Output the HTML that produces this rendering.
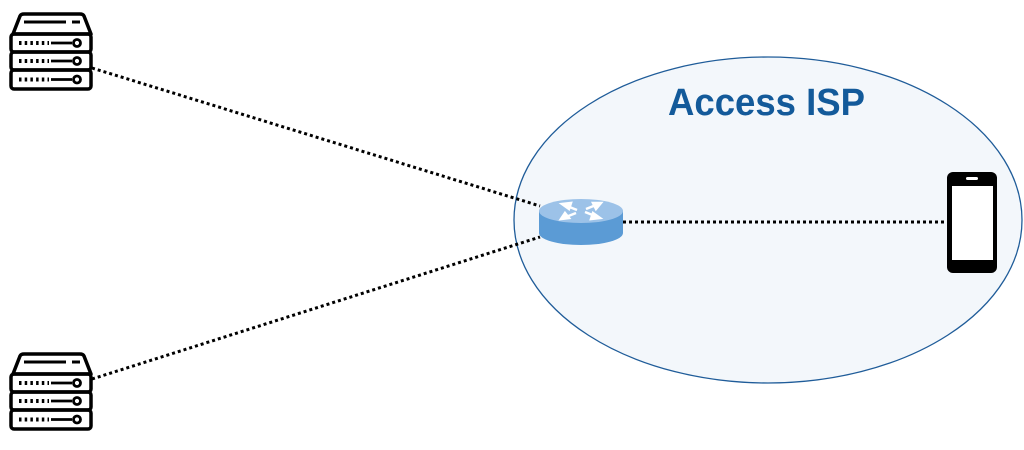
<!DOCTYPE html>
<html><head><style>html,body{margin:0;padding:0;background:#fff;}</style></head>
<body>
<svg width="1024" height="445" viewBox="0 0 1024 445" xmlns="http://www.w3.org/2000/svg">
<defs>
<g id="srv" fill="none" stroke="#000" stroke-width="3.5" stroke-linejoin="round">
  <path d="M13,34 L20,16 Q21,14 24,14 L80,14 Q83,14 84,16 L91,34 Z"/>
  <line x1="24" y1="22" x2="66" y2="22" stroke-width="3"/>
  <line x1="72" y1="22" x2="80" y2="22" stroke-width="3"/>
  <rect x="11" y="34" width="80" height="18" rx="3"/>
  <rect x="11" y="52" width="80" height="18" rx="3"/>
  <rect x="11" y="70" width="80" height="19" rx="3"/>
  <g stroke-width="4" stroke-dasharray="2.5,3.2">
    <line x1="19" y1="43" x2="49" y2="43"/>
    <line x1="19" y1="61" x2="49" y2="61"/>
    <line x1="19" y1="79.5" x2="49" y2="79.5"/>
  </g>
  <g stroke-width="2.8">
    <line x1="51" y1="43" x2="72" y2="43"/>
    <line x1="51" y1="61" x2="72" y2="61"/>
    <line x1="51" y1="79.5" x2="72" y2="79.5"/>
    <circle cx="77" cy="43" r="3.5"/><circle cx="77" cy="61" r="3.5"/><circle cx="77" cy="79.5" r="3.5"/>
  </g>
</g>
</defs>
<ellipse cx="768" cy="220" rx="254" ry="163" fill="#f3f7fb" stroke="#1f5c99" stroke-width="1.3"/>
<text x="668" y="115" font-family="Liberation Sans, sans-serif" font-weight="bold" font-size="38" fill="#135a9a" textLength="197" lengthAdjust="spacingAndGlyphs">Access ISP</text>
<g stroke="#000" stroke-width="3" stroke-dasharray="3,3" fill="none">
  <line x1="92" y1="68" x2="540" y2="206"/>
  <line x1="92" y1="379" x2="540" y2="237"/>
  <line x1="623" y1="222" x2="948" y2="222"/>
</g>
<use href="#srv"/>
<use href="#srv" y="340"/>
<path d="M539,211 L539,233 A42,12 0 0 0 623,233 L623,211 Z" fill="#5b9bd5"/>
<ellipse cx="581" cy="211" rx="42" ry="12" fill="#9cc2e8"/>
<g stroke="#fff" stroke-width="2.5" fill="#fff">
  <line x1="567" y1="206" x2="577" y2="210"/><polygon points="562,204 571,203 569,209"/>
  <line x1="585" y1="212" x2="595" y2="216"/><polygon points="600,218 591,219 593,213"/>
  <line x1="596" y1="205" x2="586" y2="209"/><polygon points="601,203 596,209 593,203"/>
  <line x1="576" y1="213" x2="566" y2="217"/><polygon points="561,219 565,213 569,218"/>
</g>
<rect x="947" y="172" width="50" height="101" rx="6" fill="#000"/>
<rect x="952" y="186" width="41" height="74" fill="#fff"/>
<rect x="966" y="177" width="12" height="3" rx="1.5" fill="#fff"/>
</svg>
</body></html>
